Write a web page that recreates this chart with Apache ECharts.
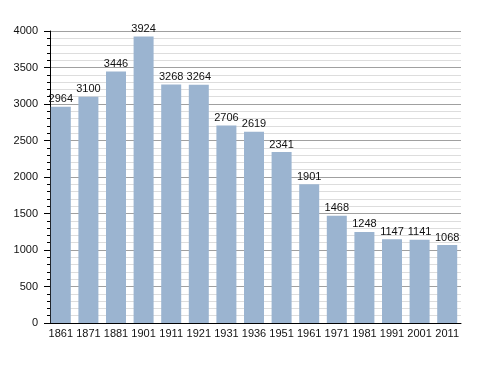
<!DOCTYPE html>
<html><head><meta charset="utf-8">
<script src="https://cdn.jsdelivr.net/npm/echarts@6/dist/echarts.min.js"></script>
<style>html,body{margin:0;padding:0;background:#fff}#c{width:488px;height:373px}</style>
</head><body><div id="c"></div>
<script>
var categories = ["1861","1871","1881","1901","1911","1921","1931","1936","1951","1961","1971","1981","1991","2001","2011"];
var population = [2964,3100,3446,3924,3268,3264,2706,2619,2341,1901,1468,1248,1147,1141,1068];
var yTicks = {min:0, max:4000, interval:500};

var chart = echarts.init(document.getElementById('c'), null, {renderer:'canvas'});
chart.setOption({
  animation:false,
  backgroundColor:'#ffffff',
  textStyle:{fontFamily:'Liberation Sans, Arial, sans-serif'},
  grid:{left:47, right:27, top:31, bottom:50, containLabel:false},
  xAxis:{
    type:'category', data:categories,
    axisLine:{show:true, lineStyle:{color:'#000', width:1}},
    axisTick:{show:false},
    axisLabel:{interval:0, color:'#111', fontSize:11, margin:5, fontFamily:'Liberation Sans, Arial, sans-serif'},
    splitLine:{show:false}
  },
  yAxis:{
    type:'value', min:yTicks.min, max:yTicks.max, interval:yTicks.interval,
    offset:-3,
    axisLine:{show:true, lineStyle:{color:'#000', width:1}},
    axisTick:{show:true, length:6, lineStyle:{color:'#000'}},
    minorTick:{show:true, splitNumber:5, length:3, lineStyle:{color:'#000'}},
    axisLabel:{color:'#111', fontSize:11, margin:12, fontFamily:'Liberation Sans, Arial, sans-serif',
      formatter:function(v){return String(v);}},
    splitLine:{show:true, lineStyle:{color:'#a0a0a0', width:1}},
    minorSplitLine:{show:true, lineStyle:{color:'#dddddd', width:1}}
  },
  series:[{
    type:'bar', data:population,
    barWidth:20,
    itemStyle:{color:'#9bb4d0'},
    label:{show:true, position:'top', distance:2, color:'#111', fontSize:11, fontFamily:'Liberation Sans, Arial, sans-serif'}
  }]
});
</script></body></html>
